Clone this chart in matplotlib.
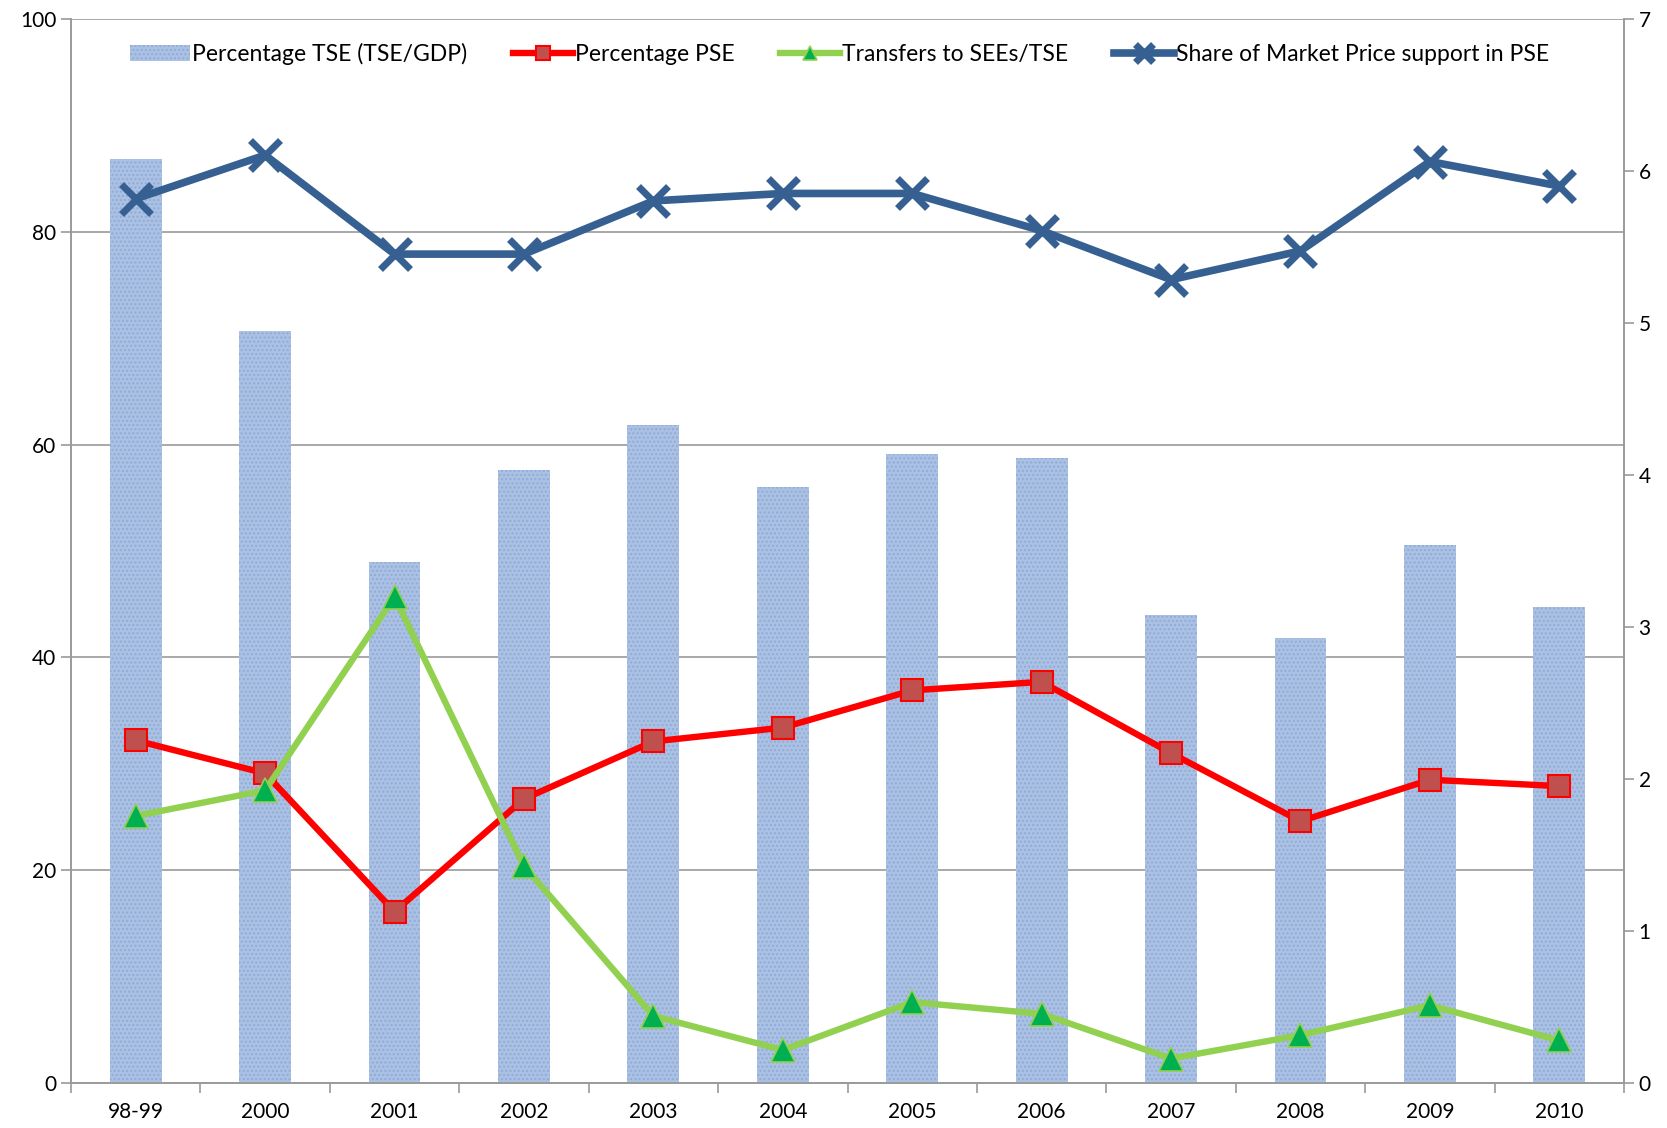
import numpy as np
import matplotlib.pyplot as plt

plt.rcParams['font.family'] = ['Lato', 'DejaVu Sans']

# Data
years = ['98-99', '2000', '2001', '2002', '2003', '2004', '2005', '2006',
         '2007', '2008', '2009', '2010']
tse_gdp = [6.08, 4.95, 3.43, 4.03, 4.33, 3.92, 4.14, 4.11, 3.08, 2.93, 3.54, 3.13]
pse_pct = [32.2, 29.1, 16.1, 26.7, 32.1, 33.4, 36.9, 37.7, 31.0, 24.6, 28.5, 27.9]
see_transfers = [25.1, 27.5, 45.7, 20.4, 6.3, 3.1, 7.6, 6.5, 2.3, 4.5, 7.3, 4.0]
mps_share = [83.1, 87.2, 77.9, 77.9, 82.9, 83.6, 83.6, 80.1, 75.5, 78.2, 86.6, 84.3]

x = np.arange(len(years))
grid_col = '#9a9a9a'

fig = plt.figure(figsize=(16.67, 11.28), dpi=100)
ax = fig.add_axes([0.0426, 0.0399, 0.9316, 0.9433])
ax2 = ax.twinx()

# bars on the right axis, drawn beneath the lines
ax2.set_ylim(0, 7)
for v in [20, 40, 60, 80, 100]:
    ax2.axhline(v * 7 / 100, color=grid_col, lw=1.2, zorder=0)
bars = ax2.bar(x, tse_gdp, width=0.40, color='#abc1e3', edgecolor='#8fabd8',
               hatch='....', lw=0, zorder=2, label='Percentage TSE (TSE/GDP)')
ax2.set_yticks(np.arange(0, 8, 1))

ax.set_zorder(ax2.get_zorder() + 1)
ax.patch.set_visible(False)

l1, = ax.plot(x, pse_pct, color='#ff0000', lw=4.6, marker='s', ms=16,
              mfc='#c0504d', mec='#ff0000', mew=1.5, label='Percentage PSE')
l2, = ax.plot(x, see_transfers, color='#92d050', lw=4.6, marker='^', ms=17,
              mfc='#00b050', mec='#92d050', mew=1.2, label='Transfers to SEEs/TSE')
l3, = ax.plot(x, mps_share, color='#376092', lw=5.5, marker='x', ms=22,
              mew=5, label='Share of Market Price support in PSE')

ax.set_ylim(0, 100)
ax.set_yticks(np.arange(0, 101, 20))
ax.set_xlim(-0.5, len(years) - 0.5)
ax.set_xticks(np.arange(-0.5, len(years), 1))
ax.set_xticklabels([])
ax.set_xticks(x, minor=True)
ax.set_xticklabels(years, minor=True)
ax.tick_params(axis='x', which='major', length=7, color=grid_col, width=1.2)
ax.tick_params(axis='x', which='minor', length=0, pad=14, labelsize=15)
ax.tick_params(axis='y', length=7, color=grid_col, width=1.2, labelsize=15)
ax2.tick_params(axis='y', length=7, color=grid_col, width=1.2, labelsize=15)

for a in (ax, ax2):
    for s in a.spines.values():
        s.set_color(grid_col)
        s.set_linewidth(1.2)
    a.spines['top'].set_visible(False)

ax.legend(handles=[bars, l1, l2, l3], loc='upper center', ncol=4, frameon=False,
          fontsize=16.5, bbox_to_anchor=(0.495, 0.997), handlelength=2.6,
          handletextpad=0.1, columnspacing=2.0, markerscale=0.6)

fig.savefig('out.png', dpi=100)
